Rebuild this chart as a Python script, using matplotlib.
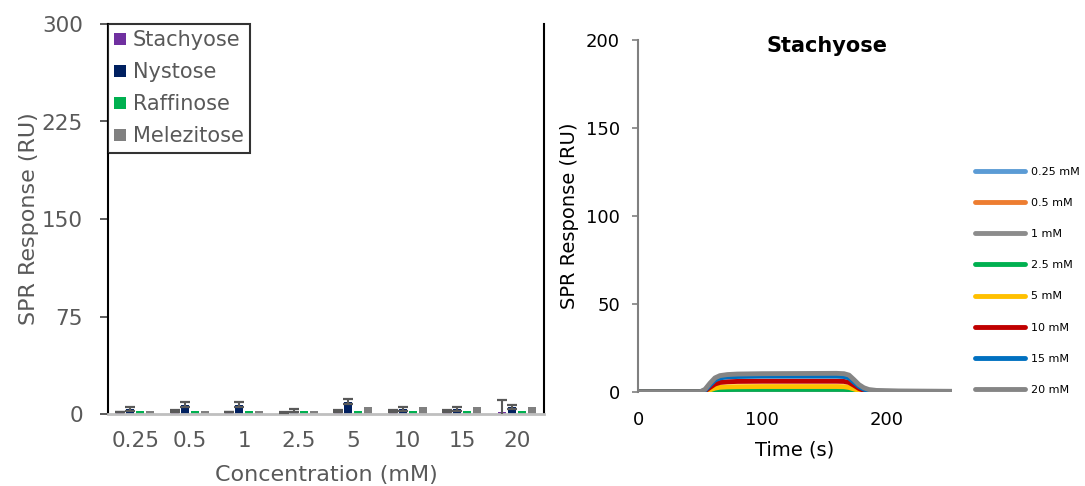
import matplotlib
matplotlib.use("Agg")
import matplotlib.pyplot as plt
import numpy as np

plt.rcParams['font.family'] = ['DejaVu Sans']

# ---- Bar chart data: binding response per sugar and concentration ----
concentrations = ["0.25", "0.5", "1", "2.5", "5", "10", "15", "20"]
sugars = ["Stachyose", "Nystose", "Raffinose", "Melezitose"]
stachyose = [1.5, 2.3, 1.5, 1.3, 2.3, 2.3, 2.3, 1.8]
stachyose_err = [0.3, 0.8, 0.3, 0.3, 0.8, 0.8, 0.8, 9.2]
nystose = [3.9, 7.3, 7.3, 2.6, 9.6, 3.9, 3.9, 5.7]
nystose_err = [1.3, 1.7, 1.7, 1.0, 1.7, 1.3, 1.3, 1.5]
raffinose = [2.0, 2.0, 2.0, 2.0, 2.0, 2.0, 2.0, 2.0]
melezitose = [2.0, 2.0, 2.0, 2.0, 5.7, 5.7, 5.7, 5.7]
bar_colors = ["#7030A0", "#002060", "#00B050", "#808080"]

# ---- Sensorgram data: Stachyose injections ----
time_s = [0, 30, 50, 54, 58, 62, 66, 72, 80, 100, 130, 160, 166, 170, 174,
          178, 182, 186, 192, 210, 230, 253]
sensor_labels = ["0.25 mM", "0.5 mM", "1 mM", "2.5 mM", "5 mM", "10 mM", "15 mM", "20 mM"]
resp_025 = [0, 0, 0, 0.0, 0.05, 0.1, 0.1, 0.1, 0.1, 0.1, 0.1, 0.1, 0.1, 0.1, 0.05,
            0.0, 0.0, 0.0, 0.0, 0.0, 0.0, 0.0]
resp_05 = [0, 0, 0, 0.02, 0.15, 0.25, 0.3, 0.3, 0.3, 0.3, 0.3, 0.3, 0.3, 0.25, 0.15,
           0.05, 0.0, -0.05, -0.1, -0.1, -0.05, -0.05]
resp_1 = [0, 0, 0, 0.05, 0.3, 0.5, 0.6, 0.7, 0.7, 0.7, 0.7, 0.7, 0.7, 0.6, 0.4,
          0.2, 0.0, -0.1, -0.2, -0.2, -0.1, -0.1]
resp_25 = [0, 0, 0, 0.1, 0.6, 1.1, 1.3, 1.4, 1.5, 1.5, 1.5, 1.5, 1.5, 1.3, 0.8,
           0.4, 0.1, -0.1, -0.2, -0.2, -0.1, -0.1]
resp_5 = [0, 0, 0, 0.2, 1.2, 2.2, 2.7, 2.9, 3.0, 3.1, 3.1, 3.1, 3.0, 2.6, 1.7,
          0.8, 0.2, 0.0, -0.2, -0.2, -0.1, -0.1]
resp_10 = [0, 0, 0, 0.6, 2.6, 4.5, 5.4, 5.8, 6.0, 6.1, 6.1, 6.1, 6.0, 5.4, 3.8,
           2.0, 0.9, 0.4, 0.1, 0.0, 0.0, 0.0]
resp_15 = [0, 0, 0, 1.0, 4.0, 6.8, 8.0, 8.6, 8.8, 9.0, 9.0, 9.0, 8.8, 8.0, 5.6,
           3.2, 1.6, 0.8, 0.4, 0.2, 0.1, 0.1]
resp_20 = [0, 0, 0.1, 1.5, 5.0, 8.0, 9.3, 9.9, 10.2, 10.4, 10.5, 10.6, 10.4, 9.6, 7.0,
           4.2, 2.4, 1.4, 0.9, 0.6, 0.5, 0.4]
sensor_colors = ["#5B9BD5", "#ED7D31", "#8C8C8C", "#00B050", "#FFC000", "#C00000",
                 "#0070C0", "#858585"]

fig = plt.figure(figsize=(10.85, 4.86), dpi=100)

# ================= Left: bar chart =================
gray_txt = "#595959"
ax1 = fig.add_axes([108/1085, 1-414/486, 436/1085, 390/486])
x = np.arange(len(concentrations))
series = [stachyose, nystose, raffinose, melezitose]
errors = [stachyose_err, nystose_err, None, None]
step, width = 0.183, 0.14
for i, (vals, err, col, name) in enumerate(zip(series, errors, bar_colors, sugars)):
    pos = x + (i - 1.5) * step
    ax1.bar(pos, vals, width=width, color=col, label=name, zorder=2)
    if err is not None:
        ax1.errorbar(pos, vals, yerr=err, fmt='none', ecolor="#595959",
                     elinewidth=1.5, capsize=3.5, capthick=1.6, zorder=3)
ax1.set_xlim(-0.5, len(concentrations) - 0.5)
ax1.set_ylim(0, 300)
ax1.set_yticks([0, 75, 150, 225, 300])
ax1.set_xticks(x)
ax1.set_xticklabels(concentrations)
ax1.tick_params(axis='y', direction='out', length=6, width=1.2, color="#404040",
                labelsize=15.5, labelcolor=gray_txt, pad=12)
ax1.tick_params(axis='x', length=0, labelsize=15.5, labelcolor=gray_txt, pad=12)
ax1.spines['top'].set_visible(False)
for s in ['left', 'right']:
    ax1.spines[s].set_color('black')
    ax1.spines[s].set_linewidth(1.5)
ax1.spines['bottom'].set_color('#BFBFBF')
ax1.spines['bottom'].set_linewidth(2.0)
ax1.set_ylabel("SPR Response (RU)", fontsize=16, color=gray_txt, labelpad=2)
ax1.set_xlabel("Concentration (mM)", fontsize=16, color=gray_txt, labelpad=10)
leg1 = ax1.legend(loc='upper left', bbox_to_anchor=(0, 1.0), fontsize=15,
                  frameon=True, fancybox=False, edgecolor='black',
                  handlelength=0.55, handleheight=0.55, handletextpad=0.35,
                  labelspacing=0.58, borderpad=0.3, borderaxespad=0)
leg1.get_frame().set_linewidth(1.5)
for t in leg1.get_texts():
    t.set_color(gray_txt)

# ================= Right: sensorgram =================
ax2 = fig.add_axes([638/1085, 1-392/486, 314/1085, 352/486])
responses = [resp_025, resp_05, resp_1, resp_25, resp_5, resp_10, resp_15, resp_20]
handles = []
for resp, col, lab in zip(responses, sensor_colors, sensor_labels):
    h, = ax2.plot(time_s, resp, color=col, lw=3.5, label=lab, solid_capstyle='round')
    handles.append(h)
ax2.set_xlim(0, 253)
ax2.set_ylim(0, 200)
ax2.set_xticks([0, 100, 200])
ax2.set_yticks([0, 50, 100, 150, 200])
ax2.tick_params(axis='y', direction='out', length=4, width=1.2, color="#808080",
                labelsize=13, pad=9)
ax2.tick_params(axis='x', length=0, labelsize=13, pad=14)
for s in ['top', 'right', 'bottom']:
    ax2.spines[s].set_visible(False)
ax2.spines['left'].set_color('#808080')
ax2.spines['left'].set_linewidth(1.5)
ax2.set_ylabel("SPR Response (RU)", fontsize=14, labelpad=5)
ax2.set_xlabel("Time (s)", fontsize=14, labelpad=8)
ax2.patch.set_alpha(0)
fig.text(827/1085, 1-46/486, "Stachyose", fontsize=15, fontweight='bold',
         ha='center', va='center')

fig.legend(handles=handles, loc='upper left', bbox_to_anchor=(975/1085, 1-167/486),
           fontsize=8, frameon=False, handlelength=4.5, handletextpad=0.5,
           labelspacing=1.9, borderaxespad=0, borderpad=0)

fig.savefig("out.png", dpi=100)
